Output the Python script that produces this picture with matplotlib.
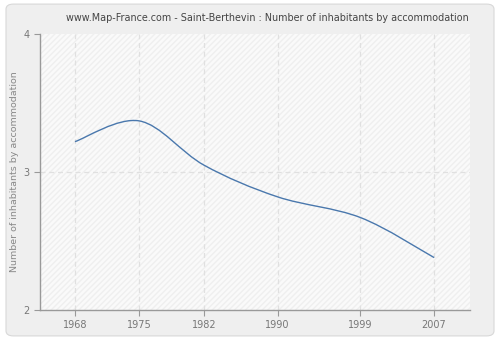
import matplotlib
matplotlib.use("Agg")
import matplotlib.pyplot as plt
import numpy as np
from matplotlib.path import Path
from matplotlib.patches import PathPatch, FancyBboxPatch

years = [1968, 1975, 1982, 1990, 1999, 2007]
values = [3.22, 3.37, 3.05, 2.82, 2.67, 2.38]
year_labels = ["1968", "1975", "1982", "1990", "1999", "2007"]
y_ticks = [2, 3, 4]
title = "www.Map-France.com - Saint-Berthevin : Number of inhabitants by accommodation"
ylabel = "Number of inhabitants by accommodation"

fig = plt.figure(figsize=(5, 3.4), dpi=100)
fig.patch.set_facecolor("#ffffff")
bg = FancyBboxPatch((0.012, 0.012), 0.976, 0.976, boxstyle="round,pad=0,rounding_size=0.015",
                    transform=fig.transFigure, facecolor="#efefef", edgecolor="#d8d8d8", lw=0.8,
                    zorder=-10)
fig.patches.append(bg)

ax = fig.add_axes([40/500, 1-310/340, 430/500, 276/340])
ax.set_zorder(1)
ax.set_facecolor("#fafafa")
ax.set_xlim(1964.2, 2010.9)
ax.set_ylim(2, 4)

# hatch background
ax.fill_between([1964.2, 2010.9], 2, 4, facecolor="none", edgecolor="#efefef", hatch="//////", lw=0, zorder=0)

# smooth curve via cubic Bezier (Catmull-Rom)
x = np.array(years, float); y = np.array(values, float)
verts = [(x[0], y[0])]; codes = [Path.MOVETO]
n = len(x)
for i in range(n - 1):
    x0, y0 = (x[i-1], y[i-1]) if i > 0 else (x[i], y[i])
    x3, y3 = (x[i+2], y[i+2]) if i + 2 < n else (x[i+1], y[i+1])
    c1 = (x[i] + (x[i+1] - x0) / 6, y[i] + (y[i+1] - y0) / 6)
    c2 = (x[i+1] - (x3 - x[i]) / 6, y[i+1] - (y3 - y[i]) / 6)
    verts += [c1, c2, (x[i+1], y[i+1])]
    codes += [Path.CURVE4] * 3
ax.add_patch(PathPatch(Path(verts, codes), facecolor="none", edgecolor="#4a78ad", lw=1.0, zorder=3))

for xx in years:
    ax.axvline(xx, color="#e0e0e0", lw=0.9, ls=(0, (4, 3)), zorder=1)
ax.axhline(3, color="#e0e0e0", lw=0.9, ls=(0, (4, 3)), zorder=1)

ax.set_xticks(years)
ax.set_xticklabels(year_labels)
ax.set_yticks(y_ticks)
ax.set_yticklabels([str(t) for t in y_ticks])
for s in ["top", "right"]:
    ax.spines[s].set_visible(False)
for s in ["left", "bottom"]:
    ax.spines[s].set_color("#999999")
    ax.spines[s].set_linewidth(1.0)
ax.tick_params(axis="both", colors="#999999", labelcolor="#777777", labelsize=7, length=4, width=0.8)
ax.set_ylabel(ylabel, color="#888888", fontsize=6.8)
ax.yaxis.set_label_coords(-21/430, 0.5)
fig.text(267/500, 1 - 18/340, title, ha="center", va="center", fontsize=6.9, color="#444444")

fig.savefig("out.png", dpi=100, facecolor=fig.get_facecolor())
